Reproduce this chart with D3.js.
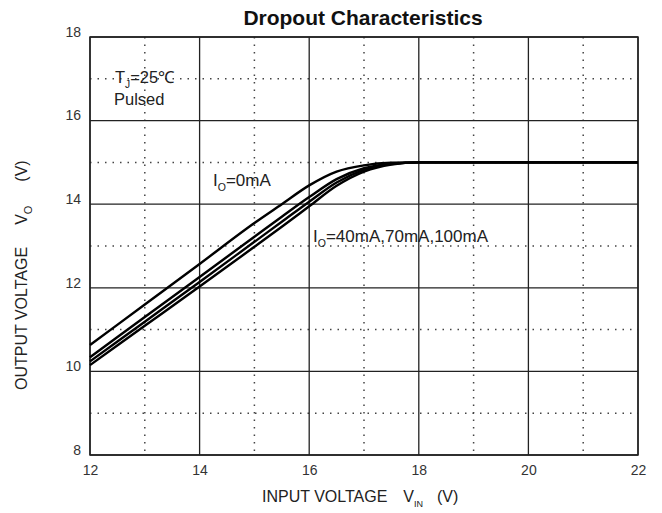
<!DOCTYPE html>
<html>
<head>
<meta charset="utf-8">
<script src="https://cdn.jsdelivr.net/npm/d3@7"></script>
<style>
  body { margin: 0; background: #fff; }
  text { font-family: "Liberation Sans", Arial, sans-serif; fill: #222; }
</style>
</head>
<body>
<svg id="chart" width="662" height="513"></svg>
<script>
// input voltage (V)
var vin = [12, 13, 14, 15, 15.5, 16, 16.5, 17, 17.5, 18, 19, 20, 21, 22];
// output voltage for each load current
var io0   = [10.63, 11.60, 12.57, 13.55, 14.00, 14.45, 14.78, 14.93, 14.99, 15, 15, 15, 15, 15];
var io40  = [10.34, 11.30, 12.26, 13.22, 13.70, 14.17, 14.60, 14.86, 14.97, 15, 15, 15, 15, 15];
var io70  = [10.24, 11.19, 12.14, 13.10, 13.58, 14.06, 14.52, 14.82, 14.96, 15, 15, 15, 15, 15];
var io100 = [10.15, 11.09, 12.03, 12.98, 13.46, 13.95, 14.44, 14.78, 14.95, 15, 15, 15, 15, 15];

var xMajor = [12, 14, 16, 18, 20, 22],
    xMinor = [13, 15, 17, 19, 21],
    yMajor = [8, 10, 12, 14, 16, 18],
    yMinor = [9, 11, 13, 15, 17];

var margin = {top: 37, right: 24, bottom: 58, left: 90},
    width = 662 - margin.left - margin.right,
    height = 513 - margin.top - margin.bottom;

var svg = d3.select("#chart");
var g = svg.append("g")
    .attr("transform", "translate(" + margin.left + "," + margin.top + ")");

var x = d3.scaleLinear().domain([12, 22]).range([0, width]);
var y = d3.scaleLinear().domain([8, 18]).range([height, 0]);

// dotted minor grid
g.selectAll(".vminor").data(xMinor).enter().append("line")
    .attr("x1", x).attr("x2", x).attr("y1", 0).attr("y2", height)
    .style("stroke", "#444").style("stroke-width", 1.5)
    .style("stroke-dasharray", "1.5,6");
g.selectAll(".hminor").data(yMinor).enter().append("line")
    .attr("y1", y).attr("y2", y).attr("x1", 0).attr("x2", width)
    .style("stroke", "#444").style("stroke-width", 1.5)
    .style("stroke-dasharray", "1.5,6");

// solid major grid
g.selectAll(".vmajor").data(xMajor).enter().append("line")
    .attr("x1", x).attr("x2", x).attr("y1", 0).attr("y2", height)
    .style("stroke", "#222").style("stroke-width", 1.3);
g.selectAll(".hmajor").data(yMajor).enter().append("line")
    .attr("y1", y).attr("y2", y).attr("x1", 0).attr("x2", width)
    .style("stroke", "#222").style("stroke-width", 1.3);

g.append("rect")
    .attr("width", width).attr("height", height)
    .style("fill", "none").style("stroke", "#222").style("stroke-width", 1.5);

// axes (tick labels only)
var xAxis = g.append("g")
    .attr("transform", "translate(0," + height + ")")
    .call(d3.axisBottom(x).tickValues(xMajor).tickSize(0).tickPadding(10));
var yAxis = g.append("g")
    .call(d3.axisLeft(y).tickValues(yMajor).tickSize(0).tickPadding(9));
[xAxis, yAxis].forEach(function(a) {
    a.select(".domain").remove();
    a.selectAll("text").style("font-size", "14px")
        .style("font-family", "Liberation Sans, Arial, sans-serif").style("fill", "#333");
});
yAxis.selectAll("text").attr("dy", "-0.05em");

// curves
var line = d3.line()
    .x(function(d) { return x(d[0]); })
    .y(function(d) { return y(d[1]); })
    .curve(d3.curveMonotoneX);

[io0, io40, io70, io100].forEach(function(s) {
    g.append("path")
        .datum(vin.map(function(v, i) { return [v, s[i]]; }))
        .attr("d", line)
        .style("fill", "none").style("stroke", "#000").style("stroke-width", 2.4);
});

// labels
svg.append("text")
    .attr("x", 363).attr("y", 25)
    .attr("text-anchor", "middle")
    .style("font-size", "21px").style("font-weight", "bold").style("fill", "#111")
    .text("Dropout Characteristics");

function subLabel(px, py, main, sub, rest, size) {
    var t = svg.append("text").attr("x", px).attr("y", py).style("font-size", size + "px");
    t.append("tspan").text(main);
    t.append("tspan").attr("dy", 5).style("font-size", (size * 0.62) + "px").text(sub);
    t.append("tspan").attr("dy", -5).text(rest);
    return t;
}

subLabel(115, 83, "T", "J", "=25\u2103", 16.5);
svg.append("text").attr("x", 114).attr("y", 105).style("font-size", "16.5px").text("Pulsed");
subLabel(213, 186, "I", "O", "=0mA", 17);
subLabel(313, 242, "I", "O", "=40mA,70mA,100mA", 17);

// axis titles
var xt = svg.append("text")
    .attr("x", 262).attr("y", 502)
    .style("font-size", "16px");
xt.append("tspan").text("INPUT VOLTAGE");
xt.append("tspan").attr("dx", 16).text("V");
xt.append("tspan").attr("dy", 5).style("font-size", "9px").text("IN");
xt.append("tspan").attr("dy", -5).attr("dx", 14).text("(V)");

var yt = svg.append("text")
    .attr("transform", "translate(27,390) rotate(-90)")
    .style("font-size", "16px");
yt.append("tspan").text("OUTPUT VOLTAGE");
yt.append("tspan").attr("dx", 22).text("V");
yt.append("tspan").attr("dy", 5).style("font-size", "11px").text("O");
yt.append("tspan").attr("dy", -5).attr("dx", 24).text("(V)");
</script>
</body>
</html>
